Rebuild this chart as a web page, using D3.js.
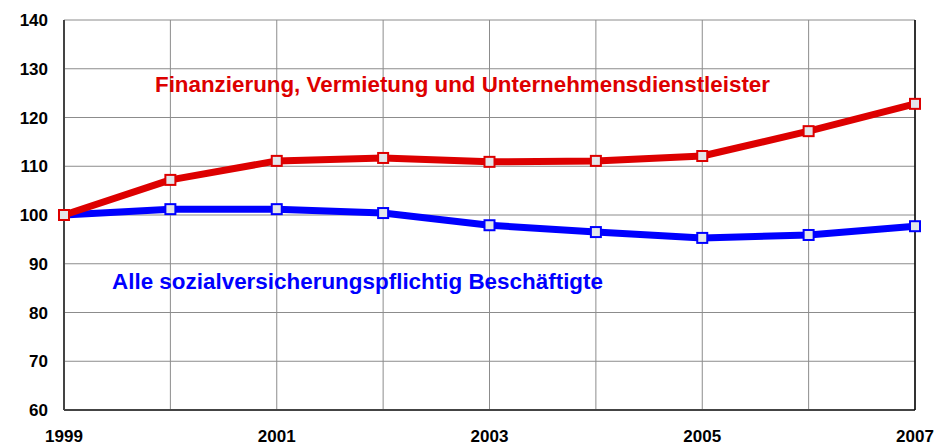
<!DOCTYPE html>
<html>
<head>
<meta charset="utf-8">
<script src="https://cdn.jsdelivr.net/npm/d3@7"></script>
<style>
  body { margin: 0; background: #fff; }
  text { font-family: Arial, "Liberation Sans", sans-serif; font-weight: bold; }
</style>
</head>
<body>
<svg width="939" height="448"></svg>
<script>
// data (index, 1999 = 100)
let years = [1999, 2000, 2001, 2002, 2003, 2004, 2005, 2006, 2007];
let finanz = [100, 107.2, 111.1, 111.7, 110.9, 111.1, 112.1, 117.2, 122.8];
let alle = [100, 101.2, 101.2, 100.4, 97.9, 96.5, 95.3, 95.9, 97.7];
let yTicks = [60, 70, 80, 90, 100, 110, 120, 130, 140];
let xLabelYears = [1999, 2001, 2003, 2005, 2007];

let svg = d3.select("svg"),
  margin = { top: 20, right: 24, bottom: 38, left: 64 },
  width = +svg.attr("width") - margin.left - margin.right,
  height = +svg.attr("height") - margin.top - margin.bottom;

let x = d3.scaleLinear().domain([1999, 2007]).range([0, width]),
  y = d3.scaleLinear().domain([60, 140]).range([height, 0]);

let g = svg.append("g")
  .attr("transform", "translate(" + margin.left + "," + margin.top + ")");

// grid
g.selectAll(".hgrid").data(yTicks).enter().append("line")
  .attr("x1", 0).attr("x2", width)
  .attr("y1", d => y(d)).attr("y2", d => y(d))
  .attr("stroke", "#8c8c8c").attr("stroke-width", 1);

g.selectAll(".vgrid").data(years).enter().append("line")
  .attr("x1", d => x(d)).attr("x2", d => x(d))
  .attr("y1", 0).attr("y2", height)
  .attr("stroke", "#8c8c8c").attr("stroke-width", 1);

// frame
g.append("line").attr("x1", 0).attr("x2", 0).attr("y1", 0).attr("y2", height)
  .attr("stroke", "#444").attr("stroke-width", 2);
g.append("line").attr("x1", 0).attr("x2", width).attr("y1", height).attr("y2", height)
  .attr("stroke", "#444").attr("stroke-width", 2);
g.append("line").attr("x1", width).attr("x2", width).attr("y1", 0).attr("y2", height)
  .attr("stroke", "#000").attr("stroke-width", 1.5);

// y axis labels
g.selectAll(".ylab").data(yTicks).enter().append("text")
  .attr("x", -16).attr("y", d => y(d) + 6)
  .attr("text-anchor", "end")
  .attr("font-size", 17)
  .text(d => d);

// x axis labels
g.selectAll(".xlab").data(xLabelYears).enter().append("text")
  .attr("x", d => x(d)).attr("y", height + 32)
  .attr("text-anchor", "middle")
  .attr("font-size", 17)
  .text(d => d);

let line = d3.line()
  .x((d, i) => x(years[i]))
  .y(d => y(d));

function drawSeries(vals, color) {
  g.append("path").datum(vals)
    .attr("fill", "none")
    .attr("stroke", color)
    .attr("stroke-width", 7)
    .attr("stroke-linejoin", "round")
    .attr("d", line);
  g.selectAll(null).data(vals).enter().append("rect")
    .attr("x", (d, i) => x(years[i]) - 5)
    .attr("y", d => y(d) - 5)
    .attr("width", 10).attr("height", 10)
    .attr("fill", "#e4e6ea")
    .attr("stroke", color)
    .attr("stroke-width", 2);
}

drawSeries(alle, "#0000ff");
drawSeries(finanz, "#dd0000");

// series labels
svg.append("text")
  .attr("x", 155).attr("y", 92)
  .attr("font-size", 21.5)
  .attr("textLength", 615)
  .attr("lengthAdjust", "spacingAndGlyphs")
  .attr("fill", "#dd0000")
  .text("Finanzierung, Vermietung und Unternehmensdienstleister");

svg.append("text")
  .attr("x", 112).attr("y", 289)
  .attr("font-size", 21.5)
  .attr("textLength", 491)
  .attr("lengthAdjust", "spacingAndGlyphs")
  .attr("fill", "#0000ff")
  .text("Alle sozialversicherungspflichtig Beschäftigte");
</script>
</body>
</html>
